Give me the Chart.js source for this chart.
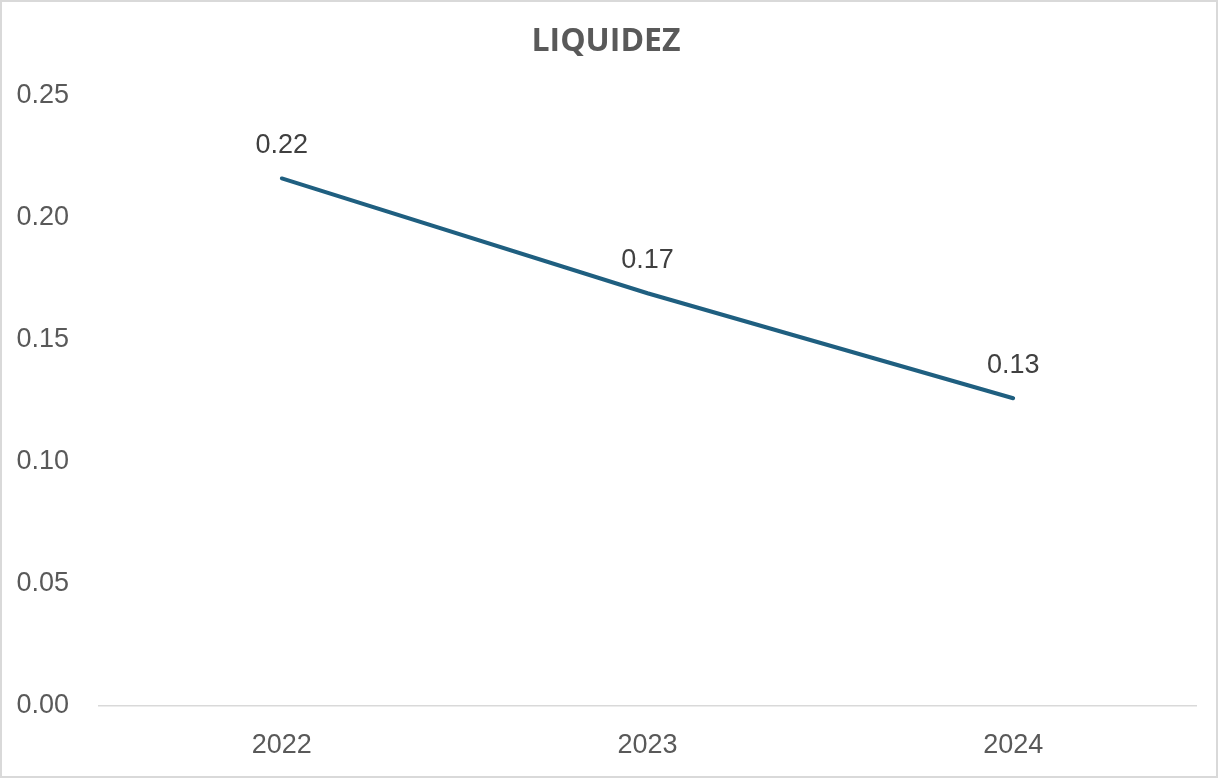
<!DOCTYPE html>
<html>
<head>
<meta charset="utf-8">
<script src="https://cdn.jsdelivr.net/npm/chart.js@4/dist/chart.umd.min.js"></script>
<style>
  html, body { margin: 0; padding: 0; background: #fff; }
  #wrap { width: 1218px; height: 778px; }
</style>
</head>
<body>
<div id="wrap"><canvas id="chart" width="1218" height="778"></canvas></div>
<script>
// data
const years = ['2022', '2023', '2024']
const liquidez = [0.216, 0.169, 0.126]
const labels_shown = ['0.22', '0.17', '0.13']

const TEXT = '#595959'
const LINE = '#1F5F80'

// frame + white background
const frame = {
    id: 'frame',
    beforeDraw (chart) {
        const { ctx, width, height } = chart
        ctx.save()
        ctx.fillStyle = '#fff'
        ctx.fillRect(0, 0, width, height)
        ctx.strokeStyle = '#d9d9d9'
        ctx.lineWidth = 2
        ctx.strokeRect(1, 1, width - 2, height - 2)
        ctx.restore()
    },
}

// value labels above each point
const pointLabels = {
    id: 'pointLabels',
    afterDatasetsDraw (chart) {
        const { ctx } = chart
        const meta = chart.getDatasetMeta(0)
        ctx.save()
        ctx.font = '27px "Liberation Sans", Arial, sans-serif'
        ctx.fillStyle = '#404040'
        ctx.textAlign = 'center'
        ctx.textBaseline = 'middle'
        meta.data.forEach((pt, i) => {
            ctx.fillText(labels_shown[i], pt.x, pt.y - 33)
        })
        ctx.restore()
    },
}

new Chart(document.getElementById('chart'), {
    type: 'line',
    data: {
        labels: years,
        datasets: [
            {
                label: 'Liquidez',
                data: liquidez,
                borderColor: LINE,
                borderWidth: 4,
                borderCapStyle: 'round',
                pointRadius: 0,
                tension: 0,
            },
        ],
    },
    options: {
        responsive: false,
        animation: false,
        layout: { padding: { left: 16, right: 22, top: 0, bottom: 0 } },
        plugins: {
            legend: { display: false },
            tooltip: { enabled: false },
            title: {
                display: true,
                text: 'LIQUIDEZ',
                color: TEXT,
                font: { family: '"Open Sans", sans-serif', size: 32, weight: 'bold' },
                padding: { top: 23, bottom: 34 },
            },
        },
        scales: {
            x: {
                offset: true,
                grid: { display: false, drawTicks: false },
                border: { display: true, color: '#d9d9d9', width: 1.5 },
                ticks: {
                    color: TEXT,
                    font: { family: '"Liberation Sans", Arial, sans-serif', size: 27 },
                    padding: 23,
                    maxRotation: 0,
                },
                afterFit (scale) { scale.height = 72 },
            },
            y: {
                min: 0,
                max: 0.25,
                grid: { display: false, drawTicks: false },
                border: { display: false },
                ticks: {
                    stepSize: 0.05,
                    color: TEXT,
                    font: { family: '"Liberation Sans", Arial, sans-serif', size: 27 },
                    padding: 30,
                    callback: (v) => v.toFixed(2),
                },
                afterFit (scale) { scale.width = 83 },
            },
        },
    },
    plugins: [frame, pointLabels],
})
</script>
</body>
</html>
